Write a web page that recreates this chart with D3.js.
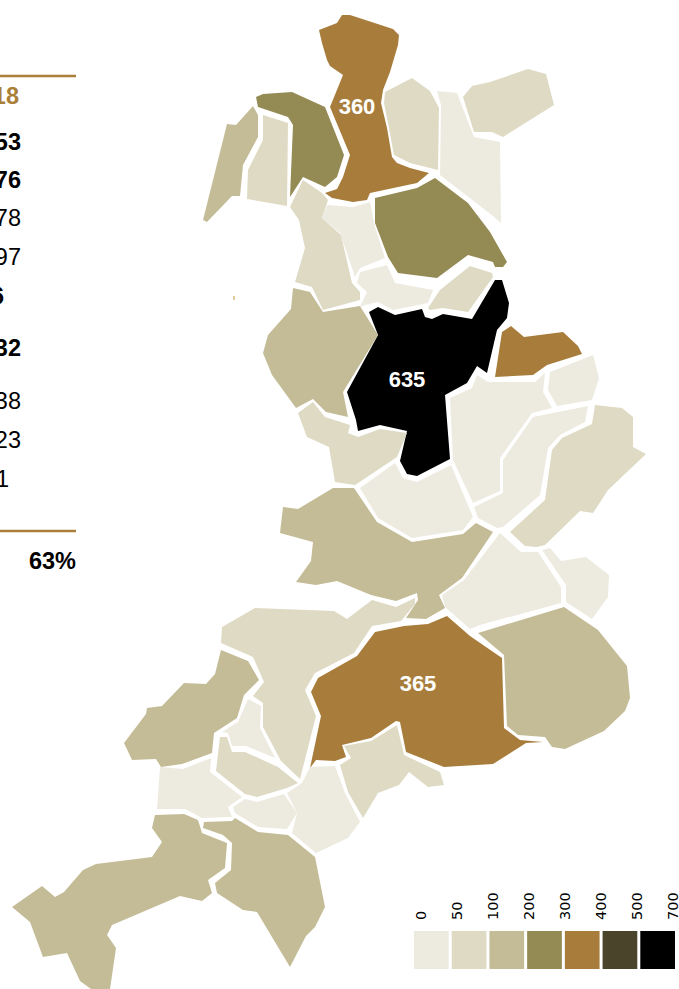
<!DOCTYPE html>
<html>
<head>
<meta charset="utf-8">
<script src="https://d3js.org/d3.v7.min.js"></script>
<style>
  html, body { margin: 0; padding: 0; background: #fff; overflow: hidden; }
  svg { display: block; }
</style>
</head>
<body>
<div id="chart"></div>
<script>
// Legend classes
const legendTicks = ["0", "50", "100", "200", "300", "400", "500", "700"];
const legendBreaks = [50, 100, 200, 300, 400, 500];
const legendColors = ["#edebe0", "#dedac4", "#c4bc96", "#948a54", "#a87d3c", "#4a442a", "#000000"];

// Table on the left, cut off by the page edge in the original
const tableRows = ["18", "53", "76", "78", "97", "6", "32", "38", "23", "1"];
const tableBold = [true, true, true, false, false, true, true, false, false, false];
const tableTotal = "63%";

// One value per district, values without a printed label are estimates from the legend class
const regionValues = [
  360, 250, 150, 75, 75, 30, 75, 250, 75, 30,
  30, 75, 635, 340, 150, 75, 30, 30, 30, 75,
  30, 150, 30, 30, 150, 365, 75, 150, 30, 75,
  30, 30, 30, 75, 150, 150
];
const labelledValues = [360, 635, 365];

const regionOutlines = [
  [[319,30],[337,23],[342,15],[350,15],[393,29],[399,35],[398,45],[390,72],[383,90],[381,103],[387,128],[392,157],[397,163],[410,168],[429,173],[417,183],[370,193],[367,200],[353,202],[332,198],[325,193],[337,189],[343,177],[350,155],[330,107],[343,75],[330,66],[327,60],[322,43]],
  [[256,97],[263,94],[292,92],[325,107],[344,155],[337,177],[325,187],[303,177],[290,197],[293,125],[288,117],[258,107]],
  [[253,106],[258,115],[258,137],[243,165],[240,196],[232,196],[207,222],[203,220],[227,124],[236,125]],
  [[263,115],[288,123],[287,206],[247,199],[248,170],[263,140]],
  [[385,92],[412,78],[430,91],[439,108],[438,170],[410,163],[394,155],[389,128],[384,103]],
  [[437,91],[457,93],[474,137],[500,142],[501,223],[493,216],[440,175],[441,105]],
  [[463,97],[472,86],[490,82],[528,69],[546,74],[554,105],[503,137],[492,132],[474,132]],
  [[375,198],[417,188],[435,178],[468,203],[490,232],[507,262],[503,267],[495,267],[493,262],[468,255],[437,278],[398,273],[388,257],[375,223]],
  [[290,207],[303,180],[322,193],[328,200],[322,218],[341,235],[352,283],[360,292],[360,300],[323,310],[312,287],[295,282],[305,248],[299,220]],
  [[327,205],[353,207],[370,202],[375,227],[385,258],[360,268],[355,277],[340,233],[322,218]],
  [[360,272],[387,265],[395,283],[433,290],[428,303],[393,310],[378,302],[365,305],[360,307],[367,292],[357,283]],
  [[440,290],[470,266],[492,273],[493,277],[468,312],[443,308],[430,310],[428,308]],
  [[369,312],[378,307],[395,315],[422,309],[425,317],[432,319],[443,314],[472,319],[495,280],[502,280],[509,303],[507,318],[497,330],[487,373],[477,366],[467,383],[445,395],[450,459],[417,476],[407,474],[400,461],[407,431],[380,425],[358,431],[356,420],[347,392],[378,335]],
  [[511,326],[524,337],[563,332],[578,346],[582,354],[547,365],[533,375],[495,377],[502,332]],
  [[293,288],[310,292],[323,312],[360,306],[378,335],[343,392],[348,417],[326,412],[313,399],[296,408],[272,375],[263,353],[268,335],[291,309]],
  [[298,413],[313,402],[325,417],[350,425],[348,433],[358,437],[380,429],[407,433],[397,457],[355,485],[335,482],[329,447],[307,437]],
  [[450,398],[472,388],[477,375],[488,382],[535,382],[545,373],[543,392],[552,408],[532,413],[500,458],[500,491],[473,503],[453,460]],
  [[550,372],[593,355],[599,378],[592,400],[557,406],[548,390]],
  [[533,417],[588,406],[585,422],[560,435],[548,448],[540,495],[503,527],[497,528],[478,518],[474,507],[503,493],[503,460]],
  [[595,405],[622,408],[633,417],[633,447],[646,454],[608,490],[593,513],[580,511],[545,545],[537,547],[525,546],[510,532],[545,500],[552,450],[562,438],[592,424]],
  [[360,488],[395,463],[403,478],[417,482],[451,465],[473,517],[463,530],[412,538],[378,518]],
  [[283,507],[298,509],[333,488],[354,488],[377,522],[412,542],[463,534],[476,523],[493,532],[462,578],[439,595],[445,608],[426,619],[406,618],[418,600],[417,593],[396,601],[371,595],[337,581],[316,585],[296,582],[311,561],[313,542],[280,533]],
  [[500,533],[521,552],[538,552],[561,587],[561,603],[480,625],[470,629],[445,607],[442,595],[464,580]],
  [[542,550],[550,548],[561,561],[586,557],[609,575],[608,597],[592,619],[566,602],[566,585]],
  [[478,633],[564,607],[598,630],[627,666],[630,698],[625,711],[604,731],[565,749],[552,747],[545,737],[518,735],[507,726],[504,655]],
  [[447,616],[470,636],[502,658],[504,728],[520,740],[543,742],[526,743],[493,764],[444,767],[406,752],[400,722],[396,721],[371,738],[342,745],[346,757],[335,761],[316,760],[310,768],[321,716],[311,692],[318,678],[357,656],[375,632],[404,626],[428,624]],
  [[255,608],[334,611],[347,619],[372,600],[396,607],[415,598],[415,604],[401,621],[372,626],[354,653],[315,673],[305,690],[316,716],[300,779],[281,761],[263,727],[263,703],[253,696],[264,682],[253,657],[221,643],[222,627]],
  [[221,650],[248,661],[259,680],[244,695],[237,718],[214,733],[212,753],[182,764],[161,767],[156,759],[132,760],[124,743],[146,714],[147,708],[162,706],[184,683],[206,684],[215,674]],
  [[248,699],[261,706],[260,728],[275,758],[246,746],[232,746],[228,733],[222,732],[238,722]],
  [[220,737],[227,737],[232,752],[245,752],[278,767],[298,783],[287,788],[257,797],[245,794],[216,771]],
  [[160,767],[183,769],[211,758],[210,772],[242,797],[228,807],[232,817],[202,818],[185,809],[157,809]],
  [[245,799],[257,802],[284,794],[297,813],[287,829],[258,827],[235,813],[233,807]],
  [[287,793],[302,783],[310,767],[335,766],[345,793],[360,822],[348,838],[316,853],[292,833],[297,813]],
  [[340,765],[351,758],[344,746],[371,741],[397,725],[404,755],[440,772],[444,785],[428,787],[409,772],[399,785],[378,793],[363,818],[348,792]],
  [[155,815],[184,814],[198,820],[202,833],[227,843],[225,868],[208,880],[212,893],[202,901],[180,896],[112,925],[107,935],[116,948],[110,989],[91,989],[80,981],[67,953],[43,957],[30,922],[12,907],[42,886],[55,897],[64,892],[83,870],[96,864],[152,857],[162,842],[152,828]],
  [[204,822],[232,821],[235,818],[258,832],[288,835],[315,857],[325,907],[315,927],[306,936],[290,967],[257,912],[243,910],[217,893],[215,883],[231,870],[232,843],[223,835],[203,828]]
];

const width = 679, height = 989;
const brown = "#aa8039";

const svg = d3.select("#chart")
  .append("svg")
  .attr("width", width)
  .attr("height", height);

// Map
const color = d3.scaleThreshold().domain(legendBreaks).range(legendColors);
const path = d3.geoPath(d3.geoIdentity());

const regions = regionOutlines.map(function(ring, i) {
  return {
    type: "Feature",
    properties: { value: regionValues[i] },
    geometry: { type: "Polygon", coordinates: [ring.concat([ring[0]])] }
  };
});

svg.append("g")
  .selectAll("path")
  .data(regions)
  .join("path")
  .attr("d", path)
  .attr("fill", function(d) { return color(d.properties.value); });

// Printed values sit by hand inside their district
const labelSpots = { 360: [357, 106], 635: [407, 379], 365: [418, 683] };
svg.append("g")
  .selectAll("text")
  .data(labelledValues)
  .join("text")
  .attr("x", function(d) { return labelSpots[d][0]; })
  .attr("y", function(d) { return labelSpots[d][1]; })
  .attr("dy", "0.35em")
  .attr("text-anchor", "middle")
  .style("font", "bold 22px 'Liberation Sans', Arial, sans-serif")
  .style("fill", "#fff")
  .text(function(d) { return d; });

// stray tick left of the map
svg.append("rect").attr("x", 233.5).attr("y", 296).attr("width", 1).attr("height", 4).attr("fill", "#c8963c");

// Table
const rowY = [104, 150, 188, 226, 265, 304, 356, 409, 448, 487];
const rowRight = [19, 21, 21, 21, 21, 4, 21, 21, 21, 9];
const table = svg.append("g").style("font-family", "'Liberation Sans', Arial, sans-serif").style("font-size", "23.5px");

table.selectAll("text.row")
  .data(tableRows)
  .join("text")
  .attr("class", "row")
  .attr("x", function(d, i) { return rowRight[i]; })
  .attr("y", function(d, i) { return rowY[i]; })
  .attr("text-anchor", "end")
  .style("font-weight", function(d, i) { return tableBold[i] ? "bold" : "normal"; })
  .style("fill", function(d, i) { return i === 0 ? brown : "#000"; })
  .text(function(d) { return d; });

table.append("text")
  .attr("x", 76)
  .attr("y", 569)
  .attr("text-anchor", "end")
  .style("font-weight", "bold")
  .text(tableTotal);

table.selectAll("line")
  .data([76, 531])
  .join("line")
  .attr("x1", 0)
  .attr("x2", 76)
  .attr("y1", function(d) { return d; })
  .attr("y2", function(d) { return d; })
  .attr("stroke", brown)
  .attr("stroke-width", 2.5);

// Legend
const swatchX = d3.scaleBand()
  .domain(legendColors)
  .range([414, 675])
  .paddingInner(0.08);

const tickX = d3.scalePoint()
  .domain(legendTicks)
  .range([421, 673]);

const legend = svg.append("g");

legend.selectAll("rect")
  .data(legendColors)
  .join("rect")
  .attr("x", function(d) { return swatchX(d); })
  .attr("y", 931)
  .attr("width", swatchX.bandwidth())
  .attr("height", 38)
  .attr("fill", function(d) { return d; });

legend.selectAll("text")
  .data(legendTicks)
  .join("text")
  .attr("transform", function(d) { return "translate(" + tickX(d) + ",920) rotate(-90)"; })
  .attr("dy", "0.35em")
  .style("font", "14.5px 'DejaVu Sans', Verdana, sans-serif")
  .style("fill", "#000")
  .text(function(d) { return d; });
</script>
</body>
</html>
